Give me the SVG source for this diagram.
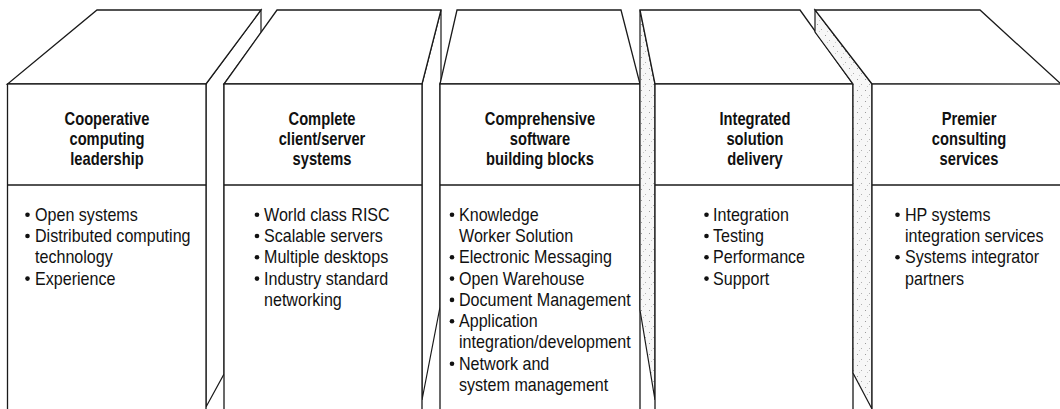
<svg xmlns="http://www.w3.org/2000/svg" width="1060" height="409" viewBox="0 0 1060 409">
<defs>
<pattern id="stip" width="8" height="11" patternUnits="userSpaceOnUse">
<rect width="8" height="11" fill="#f7f7f7"/>
<rect x="1" y="2" width="1" height="1" fill="#9a9a9a"/>
<rect x="5" y="7" width="1" height="1" fill="#b0b0b0"/>
<rect x="3" y="9" width="1" height="1" fill="#c8c8c8"/>
</pattern>
<style>
.face{fill:#fff;stroke:#1a1a1a;stroke-width:1.3;stroke-linejoin:miter}
.side{fill:#fff;stroke:#1a1a1a;stroke-width:1.2}
.shade{fill:url(#stip);stroke:#1a1a1a;stroke-width:1.2}
.sep{stroke:#1a1a1a;stroke-width:1.3}
.h{font-family:"Liberation Sans",Arial,sans-serif;font-weight:bold;font-size:18px;text-anchor:middle;fill:#111}
.b{font-family:"Liberation Sans",Arial,sans-serif;font-size:17.5px;fill:#111}
.dot{fill:#111}
</style>
</defs>
<rect width="1060" height="409" fill="#fff"/>

<g id="box1">
<polygon class="side" points="206,84 261,10 261,33 224,84 224,374 206,407"/>
<polygon class="face" points="97,10 261,10 206,84 7.5,84"/>
<rect class="face" x="7.5" y="84" width="198.5" height="340"/>
<line class="sep" x1="7.5" y1="185" x2="206" y2="185"/>
<g transform="translate(107,0) scale(0.817,1)">
<text class="h" x="0" y="125">Cooperative</text>
<text class="h" x="0" y="145.5">computing</text>
<text class="h" x="0" y="165.5">leadership</text>
</g>
<circle class="dot" cx="27.5" cy="214.7" r="2.3"/>
<circle class="dot" cx="27.5" cy="236" r="2.3"/>
<circle class="dot" cx="27.5" cy="278.6" r="2.3"/>
<g transform="translate(35,0) scale(0.92,1)">
<text class="b" x="0" y="220.7">Open systems</text>
<text class="b" x="0" y="242">Distributed computing</text>
<text class="b" x="0" y="263.3">technology</text>
<text class="b" x="0" y="284.6">Experience</text>
</g>
</g>

<g id="box2">
<polygon class="side" points="422,84 441,10 441,80 440,84 440,307 422,400"/>
<polygon class="face" points="277,10 441,10 422,84 224,84"/>
<rect class="face" x="224" y="84" width="198" height="340"/>
<line class="sep" x1="224" y1="185" x2="422" y2="185"/>
<g transform="translate(322,0) scale(0.817,1)">
<text class="h" x="0" y="125">Complete</text>
<text class="h" x="0" y="145.5">client/server</text>
<text class="h" x="0" y="165.5">systems</text>
</g>
<circle class="dot" cx="257" cy="214.7" r="2.3"/>
<circle class="dot" cx="257" cy="236" r="2.3"/>
<circle class="dot" cx="257" cy="257.3" r="2.3"/>
<circle class="dot" cx="257" cy="278.6" r="2.3"/>
<g transform="translate(264,0) scale(0.92,1)">
<text class="b" x="0" y="220.7">World class RISC</text>
<text class="b" x="0" y="242">Scalable servers</text>
<text class="b" x="0" y="263.3">Multiple desktops</text>
<text class="b" x="0" y="284.6">Industry standard</text>
<text class="b" x="0" y="305.9">networking</text>
</g>
</g>

<g id="box3">
<polygon class="face" points="457,10 621,10 640,84 440,84"/>
<rect class="face" x="440" y="84" width="200" height="340"/>
<line class="sep" x1="440" y1="185" x2="640" y2="185"/>
<g transform="translate(540,0) scale(0.817,1)">
<text class="h" x="0" y="125">Comprehensive</text>
<text class="h" x="0" y="145.5">software</text>
<text class="h" x="0" y="165.5">building blocks</text>
</g>
<circle class="dot" cx="452" cy="214.7" r="2.3"/>
<circle class="dot" cx="452" cy="257.3" r="2.3"/>
<circle class="dot" cx="452" cy="278.6" r="2.3"/>
<circle class="dot" cx="452" cy="299.9" r="2.3"/>
<circle class="dot" cx="452" cy="321.2" r="2.3"/>
<circle class="dot" cx="452" cy="363.8" r="2.3"/>
<g transform="translate(459,0) scale(0.92,1)">
<text class="b" x="0" y="220.7">Knowledge</text>
<text class="b" x="0" y="242">Worker Solution</text>
<text class="b" x="0" y="263.3">Electronic Messaging</text>
<text class="b" x="0" y="284.6">Open Warehouse</text>
<text class="b" x="0" y="305.9">Document Management</text>
<text class="b" x="0" y="327.2">Application</text>
<text class="b" x="0" y="348.5">integration/development</text>
<text class="b" x="0" y="369.8">Network and</text>
<text class="b" x="0" y="391.1">system management</text>
</g>
</g>

<g id="box4">
<polygon class="shade" points="640,10 655,84 655,400 640,310"/>
<polygon class="face" points="640,10 800,10 853,84 655,84"/>
<rect class="face" x="655" y="84" width="198" height="340"/>
<line class="sep" x1="655" y1="185" x2="853" y2="185"/>
<g transform="translate(755,0) scale(0.817,1)">
<text class="h" x="0" y="125">Integrated</text>
<text class="h" x="0" y="145.5">solution</text>
<text class="h" x="0" y="165.5">delivery</text>
</g>
<circle class="dot" cx="706.5" cy="214.7" r="2.3"/>
<circle class="dot" cx="706.5" cy="236" r="2.3"/>
<circle class="dot" cx="706.5" cy="257.3" r="2.3"/>
<circle class="dot" cx="706.5" cy="278.6" r="2.3"/>
<g transform="translate(713,0) scale(0.92,1)">
<text class="b" x="0" y="220.7">Integration</text>
<text class="b" x="0" y="242">Testing</text>
<text class="b" x="0" y="263.3">Performance</text>
<text class="b" x="0" y="284.6">Support</text>
</g>
</g>

<g id="box5">
<polygon class="shade" points="815,10 815,32 853,84 853,373 872,409 872,84"/>
<polygon class="face" points="815,10 980,10 1062,85 872,84"/>
<rect class="face" x="872" y="84" width="200" height="340"/>
<line class="sep" x1="872" y1="185" x2="1060" y2="185"/>
<g transform="translate(969,0) scale(0.817,1)">
<text class="h" x="0" y="125">Premier</text>
<text class="h" x="0" y="145.5">consulting</text>
<text class="h" x="0" y="165.5">services</text>
</g>
<circle class="dot" cx="897.5" cy="214.7" r="2.3"/>
<circle class="dot" cx="897.5" cy="257.3" r="2.3"/>
<g transform="translate(905,0) scale(0.92,1)">
<text class="b" x="0" y="220.7">HP systems</text>
<text class="b" x="0" y="242">integration services</text>
<text class="b" x="0" y="263.3">Systems integrator</text>
<text class="b" x="0" y="284.6">partners</text>
</g>
</g>

<g id="connectors"></g>
</svg>
